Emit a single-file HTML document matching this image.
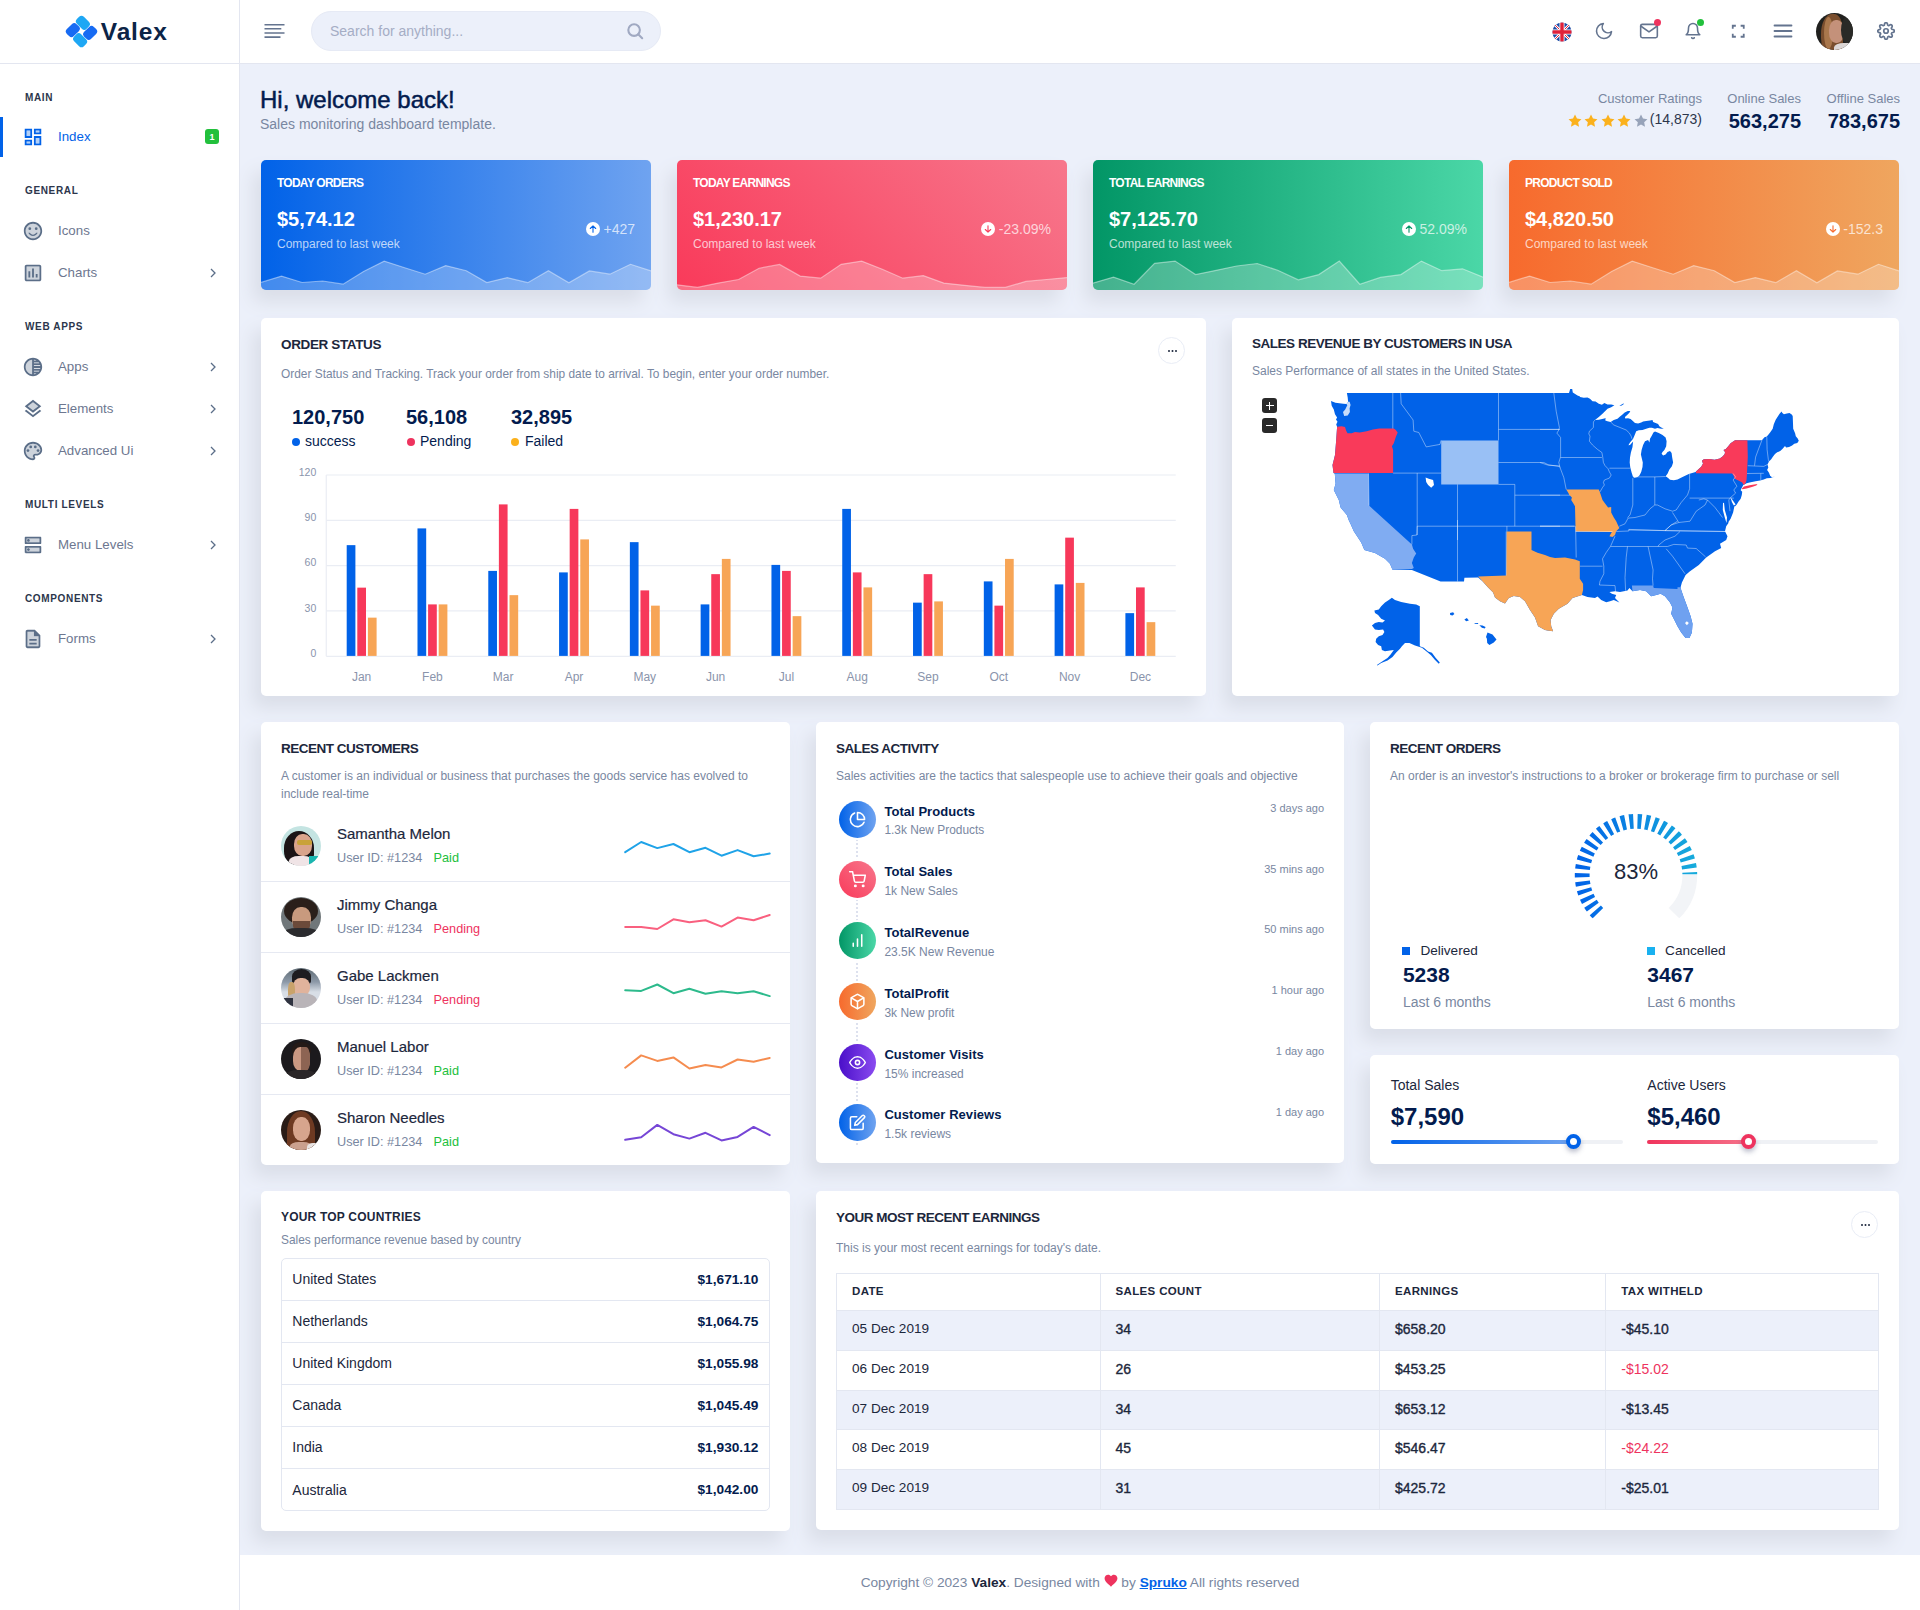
<!DOCTYPE html>
<html lang="en">
<head>
<meta charset="utf-8">
<title>Valex Dashboard</title>
<style>
*{box-sizing:border-box;margin:0;padding:0}
html,body{width:1920px;height:1610px;overflow:hidden}
body{font-family:"Liberation Sans",sans-serif;background:#ecf0fa;color:#031b4e;position:relative;font-size:14px}
.abs{position:absolute}
.t{position:absolute;white-space:nowrap;line-height:1}
.med{-webkit-text-stroke:0.35px currentColor}
.hd{-webkit-text-stroke:0.5px currentColor}
.b{font-weight:bold}
.muted{color:#7987a1}
/* sidebar */
#side{position:absolute;left:0;top:0;width:240px;height:1610px;background:#fff;border-right:1px solid #e3e6f0}
#logo{position:absolute;left:0;top:0;width:239px;height:64px;border-bottom:1px solid #e3e6f0}
.cat{position:absolute;left:25px;margin-top:.8px;font-size:10px;font-weight:bold;letter-spacing:.65px;color:#2c364c;line-height:1;white-space:nowrap}
.mi{position:absolute;left:58px;font-size:13.3px;color:#6d7790;line-height:1;white-space:nowrap}
.ic{position:absolute;left:23px;width:20px;height:20px;margin-top:.5px}
.chev{position:absolute;left:208px;width:10px;height:10px}
/* header */
#head{position:absolute;left:240px;top:0;width:1680px;height:64px;background:#fff;border-bottom:1px solid #e3e6f0}
/* cards */
.card{position:absolute;background:#fff;border-radius:5px;box-shadow:-8px 12px 18px 0 #dadee8}
.ct{position:absolute;left:20px;font-size:14px;font-weight:bold;color:#1c273c;line-height:1;white-space:nowrap}
.cs{position:absolute;left:20px;font-size:12px;color:#7987a1;line-height:1;white-space:nowrap}
.stat{position:absolute;top:160px;width:390px;height:130px;border-radius:5px;overflow:hidden;box-shadow:-8px 12px 18px 0 #dadee8;color:#fff}
#c-earn .t:not(.b){margin-top:-1px}
#foot{position:absolute;left:240px;top:1555px;width:1680px;height:55px;background:#fff}
</style>
</head>
<body>
<!-- SIDEBAR -->
<div id="side">
  <div id="logo">
    <svg class="abs" style="left:65px;top:15.200px;overflow:visible" width="33" height="33" viewBox="0 0 33 33">
      <g transform="rotate(45 16.5 16.5)">
        <rect x="4.450" y="4.450" width="13.800" height="9.900" rx="3.400" fill="#1ea7f4"/>
        <rect x="18.650" y="4.450" width="9.900" height="13.800" rx="3.400" fill="#176bf3"/>
        <rect x="14.750" y="18.650" width="13.800" height="9.900" rx="3.400" fill="#1ea7f4"/>
        <rect x="4.450" y="14.750" width="9.900" height="13.800" rx="3.400" fill="#176bf3"/>
      </g>
    </svg>
    <div class="t b" style="left:100.800px;top:20px;font-size:24.500px;letter-spacing:.85px;color:#0c2447">Valex</div>
  </div>
  <div class="abs" style="left:0;top:117px;width:3px;height:40px;background:#0162e8"></div>
  <div class="cat" style="top:92px">MAIN</div>
  <svg class="ic" style="top:125px;left:22px;width:22px;height:22px" viewBox="0 0 24 24" fill="#0162e8"><path d="M5 5h4v6H5zm10 8h4v6h-4zM5 17h4v2H5zm10-12h4v2h-4z" opacity=".3"/><path d="M3 13h8V3H3v10zm2-8h4v6H5V5zm8 16h8V11h-8v10zm2-8h4v6h-4v-6zM13 3v6h8V3h-8zm6 4h-4V5h4v2zM3 21h8v-6H3v6zm2-4h4v2H5v-2z"/></svg>
  <div class="mi" style="top:130px;color:#0162e8">Index</div>
  <div class="abs" style="left:205px;top:129px;width:14px;height:15px;border-radius:3px;background:#22c03c;color:#fff;font-size:9px;font-weight:bold;text-align:center;line-height:16px">1</div>

  <div class="cat" style="top:185px">GENERAL</div>
  <svg class="ic" style="top:219px;left:22px;width:22px;height:22px" viewBox="0 0 24 24" fill="#5b6e88"><path d="M12 4c-4.42 0-8 3.58-8 8s3.58 8 8 8 8-3.58 8-8-3.58-8-8-8z" opacity=".3"/><path d="M11.99 2C6.47 2 2 6.48 2 12s4.47 10 9.99 10C17.52 22 22 17.52 22 12S17.52 2 11.99 2zM12 20c-4.42 0-8-3.58-8-8s3.58-8 8-8 8 3.58 8 8-3.58 8-8 8z"/><circle cx="15.5" cy="9.5" r="1.5"/><circle cx="8.5" cy="9.5" r="1.5"/><path d="M12 17.5c2.33 0 4.32-1.45 5.12-3.5h-1.67c-.69 1.19-1.97 2-3.45 2s-2.75-.81-3.45-2H6.88c.8 2.05 2.79 3.5 5.12 3.5z"/></svg>
  <div class="mi" style="top:224px">Icons</div>
  <svg class="ic" style="top:261px;left:22px;width:22px;height:22px" viewBox="0 0 24 24" fill="#5b6e88"><path d="M5 19h14V5H5v14z" opacity=".3"/><path d="M19 3H5c-1.1 0-2 .9-2 2v14c0 1.1.9 2 2 2h14c1.1 0 2-.9 2-2V5c0-1.1-.9-2-2-2zm0 16H5V5h14v14zM7 10h2v7H7zm4-3h2v10h-2zm4 6h2v4h-2z"/></svg>
  <div class="mi" style="top:266px">Charts</div>
  <svg class="chev" style="top:268px" viewBox="0 0 10 10"><path d="M3 1l4 4-4 4" fill="none" stroke="#5b6e88" stroke-width="1.3"/></svg>

  <div class="cat" style="top:321px">WEB APPS</div>
  <svg class="ic" style="top:355px;left:22px;width:22px;height:22px" viewBox="0 0 24 24" fill="#5b6e88"><path d="M4 12c0 4.08 3.06 7.44 7 7.93V4.07C7.05 4.56 4 7.92 4 12z" opacity=".3"/><path d="M12 2C6.48 2 2 6.48 2 12s4.48 10 10 10 10-4.48 10-10S17.52 2 12 2zm-1 17.93c-3.94-.49-7-3.85-7-7.93s3.05-7.44 7-7.93v15.86zm2-15.86c1.03.13 2 .45 2.87.93H13v-.93zM13 7h5.24c.25.31.48.65.68 1H13V7zm0 3h6.74c.08.33.15.66.19 1H13v-1zm0 9.93V19h2.87c-.87.48-1.84.8-2.87.93zM18.24 17H13v-1h5.92c-.2.35-.43.69-.68 1zm1.5-3H13v-1h6.93c-.04.34-.11.67-.19 1z"/></svg>
  <div class="mi" style="top:360px">Apps</div>
  <svg class="chev" style="top:362px" viewBox="0 0 10 10"><path d="M3 1l4 4-4 4" fill="none" stroke="#5b6e88" stroke-width="1.3"/></svg>
  <svg class="ic" style="top:397px;left:22px;width:22px;height:22px" viewBox="0 0 24 24" fill="#5b6e88"><path d="M6.26 9L12 13.47 17.74 9 12 4.53z" opacity=".3"/><path d="M11.99 18.54l-7.37-5.73L3 14.07l9 7 9-7-1.63-1.27zM12 16l7.36-5.73L21 9l-9-7-9 7 1.63 1.27L12 16zm0-11.47L17.74 9 12 13.47 6.26 9 12 4.53z"/></svg>
  <div class="mi" style="top:402px">Elements</div>
  <svg class="chev" style="top:404px" viewBox="0 0 10 10"><path d="M3 1l4 4-4 4" fill="none" stroke="#5b6e88" stroke-width="1.3"/></svg>
  <svg class="ic" style="top:439px;left:22px;width:22px;height:22px" viewBox="0 0 24 24" fill="#5b6e88"><path d="M12 4c-4.41 0-8 3.59-8 8s3.59 8 8 8c.28 0 .5-.22.5-.5 0-.16-.08-.28-.14-.35-.41-.46-.63-1.05-.63-1.65 0-1.38 1.12-2.5 2.5-2.5H16c2.21 0 4-1.79 4-4 0-3.86-3.59-7-8-7z" opacity=".3"/><path d="M12 22C6.49 22 2 17.51 2 12S6.49 2 12 2s10 4.04 10 9c0 3.31-2.69 6-6 6h-1.77c-.28 0-.5.22-.5.5 0 .12.05.23.13.33.41.47.64 1.06.64 1.67 0 1.38-1.12 2.5-2.5 2.5zm0-18c-4.41 0-8 3.59-8 8s3.59 8 8 8c.28 0 .5-.22.5-.5 0-.16-.08-.28-.14-.35-.41-.46-.63-1.05-.63-1.65 0-1.38 1.12-2.5 2.5-2.5H16c2.21 0 4-1.79 4-4 0-3.86-3.59-7-8-7z"/><circle cx="6.5" cy="11.5" r="1.5"/><circle cx="9.5" cy="7.5" r="1.5"/><circle cx="14.5" cy="7.5" r="1.5"/><circle cx="17.5" cy="11.5" r="1.5"/></svg>
  <div class="mi" style="top:444px">Advanced Ui</div>
  <svg class="chev" style="top:446px" viewBox="0 0 10 10"><path d="M3 1l4 4-4 4" fill="none" stroke="#5b6e88" stroke-width="1.3"/></svg>

  <div class="cat" style="top:499px">MULTI LEVELS</div>
  <svg class="ic" style="top:533px;left:22px;width:22px;height:22px" viewBox="0 0 24 24" fill="#5b6e88"><path d="M5 9h14V5H5v4zm0 10h14v-4H5v4z" opacity=".3"/><path d="M19 15v4H5v-4h14m1-2H4c-.55 0-1 .45-1 1v6c0 .55.45 1 1 1h16c.55 0 1-.45 1-1v-6c0-.55-.45-1-1-1zM7 18.500c-.82 0-1.5-.67-1.5-1.5s.68-1.5 1.5-1.5 1.5.67 1.5 1.5-.67 1.5-1.5 1.5zM19 5v4H5V5h14m1-2H4c-.55 0-1 .45-1 1v6c0 .55.45 1 1 1h16c.55 0 1-.45 1-1V4c0-.55-.45-1-1-1zM7 8.500c-.82 0-1.5-.67-1.5-1.5S6.180 5.500 7 5.500s1.500.68 1.500 1.500S7.830 8.500 7 8.500z"/></svg>
  <div class="mi" style="top:538px">Menu Levels</div>
  <svg class="chev" style="top:540px" viewBox="0 0 10 10"><path d="M3 1l4 4-4 4" fill="none" stroke="#5b6e88" stroke-width="1.3"/></svg>

  <div class="cat" style="top:593px">COMPONENTS</div>
  <svg class="ic" style="top:627px;left:22px;width:22px;height:22px" viewBox="0 0 24 24" fill="#5b6e88"><path d="M13 4H6v16h12V9h-5V4z" opacity=".3"/><path d="M8 16h8v2H8zm0-4h8v2H8zm6-10H6c-1.1 0-2 .9-2 2v16c0 1.1.89 2 1.990 2H18c1.1 0 2-.9 2-2V8l-6-6zm4 18H6V4h7v5h5v11z"/></svg>
  <div class="mi" style="top:632px">Forms</div>
  <svg class="chev" style="top:634px" viewBox="0 0 10 10"><path d="M3 1l4 4-4 4" fill="none" stroke="#5b6e88" stroke-width="1.3"/></svg>
</div>
<!-- HEADER -->
<div id="head">
  <svg class="abs" style="left:24px;top:23px" width="22" height="16" viewBox="0 0 22 16" fill="none" stroke="#64748f" stroke-width="1.600"><path d="M.5 1.700h20M.5 5.800h16.800M.5 10h20M.5 14.100h16"/></svg>
  <div class="abs" style="left:71px;top:11px;width:350px;height:40px;border-radius:20px;background:#ecf0fa;border:1px solid #e6eaf5"></div>
  <div class="t" style="left:90px;top:24px;font-size:14px;color:#a5adc5">Search for anything...</div>
  <svg class="abs" style="left:385.500px;top:22px" width="18.500" height="18.500" viewBox="0 0 24 24" fill="none" stroke="#a0a9c2" stroke-width="2.700" stroke-linecap="round"><circle cx="10.5" cy="10.5" r="7.500"/><path d="M21 21l-5.200-5.200"/></svg>
  <!-- flag -->
  <svg class="abs" style="left:1311.500px;top:21.500px" width="20" height="20" viewBox="0 0 20 20"><defs><clipPath id="fc"><circle cx="10" cy="10" r="9.600"/></clipPath></defs><g clip-path="url(#fc)"><rect width="20" height="20" fill="#1c4aa5"/><path d="M-2 -2L22 22M22 -2L-2 22" stroke="#fff" stroke-width="2.600"/><path d="M-2 -2L22 22M22 -2L-2 22" stroke="#e0203a" stroke-width="1"/><path d="M10 0v20M0 10h20" stroke="#fff" stroke-width="5"/><path d="M10 0v20M0 10h20" stroke="#e0203a" stroke-width="3.400"/></g></svg>
  <!-- moon -->
  <svg class="abs" style="left:1354px;top:21px" width="20" height="20" viewBox="0 0 24 24" fill="none" stroke="#64748f" stroke-width="1.900" stroke-linecap="round" stroke-linejoin="round"><path d="M21 12.790A9 9 0 1 1 11.210 3 7 7 0 0 0 21 12.790z"/></svg>
  <!-- mail -->
  <svg class="abs" style="left:1399px;top:21px" width="20" height="20" viewBox="0 0 24 24" fill="none" stroke="#64748f" stroke-width="1.900" stroke-linecap="round" stroke-linejoin="round"><path d="M4 4h16c1.100 0 2 .9 2 2v12c0 1.100-.9 2-2 2H4c-1.100 0-2-.9-2-2V6c0-1.100.9-2 2-2z"/><path d="M22 6l-10 7L2 6"/></svg>
  <div class="abs" style="left:1414px;top:19px;width:7px;height:7px;border-radius:50%;background:#ee335e"></div>
  <!-- bell -->
  <svg class="abs" style="left:1444px;top:22px" width="18" height="18" viewBox="0 0 24 24" fill="none" stroke="#64748f" stroke-width="2.100" stroke-linecap="round" stroke-linejoin="round"><path d="M18 8A6 6 0 0 0 6 8c0 7-3 9-3 9h18s-3-2-3-9"/><path d="M13.730 21a2 2 0 0 1-3.460 0"/></svg>
  <div class="abs" style="left:1457px;top:19px;width:7px;height:7px;border-radius:50%;background:#22c03c"></div>
  <!-- fullscreen -->
  <svg class="abs" style="left:1490px;top:23px" width="16.500" height="16.500" viewBox="0 0 24 24" fill="none" stroke="#64748f" stroke-width="2.100" stroke-linecap="round" stroke-linejoin="round"><path d="M8.500 4H4V8.500M20 8.500V4H15.500M15.500 20H20V15.500M4 15.500V20H8.500" stroke-linecap="butt" stroke-linejoin="miter" stroke-width="2.600"/></svg>
  <!-- menu -->
  <svg class="abs" style="left:1533px;top:21px" width="20" height="20" viewBox="0 0 20 20" fill="none" stroke="#64748f" stroke-width="1.800" stroke-linecap="round"><path d="M1.500 4.500h17M1.500 10h17M1.500 15.500h17"/></svg>
  <!-- avatar -->
  <div class="abs" style="left:1576px;top:13px;width:37px;height:37px;border-radius:50%;overflow:hidden;background:#20201e">
    <div class="abs" style="left:5px;top:1px;width:22px;height:40px;border-radius:50% 40% 20% 40%;background:#7a4e2e"></div>
    <div class="abs" style="left:8px;top:4px;width:9px;height:32px;border-radius:50%;background:#a9774c"></div>
    <div class="abs" style="left:13px;top:7px;width:15px;height:23px;border-radius:45%;background:#c4917a"></div>
    <div class="abs" style="left:25px;top:4px;width:12px;height:26px;background:#2a2a27;border-radius:50% 0 0 50%"></div>
    <div class="abs" style="left:18px;top:30px;width:20px;height:9px;background:#dcd7d6;border-radius:50% 30% 0 0"></div>
  </div>
  <!-- gear -->
  <svg class="abs" style="left:1637px;top:22px" width="18" height="18" viewBox="0 0 24 24" fill="none" stroke="#64748f" stroke-width="2.300" stroke-linecap="round" stroke-linejoin="round"><circle cx="12" cy="12" r="3"/><path d="M19.400 15a1.650 1.650 0 0 0 .33 1.820l.06.06a2 2 0 0 1 0 2.830 2 2 0 0 1-2.830 0l-.06-.06a1.650 1.650 0 0 0-1.820-.33 1.650 1.650 0 0 0-1 1.510V21a2 2 0 0 1-2 2 2 2 0 0 1-2-2v-.09A1.650 1.650 0 0 0 9 19.400a1.650 1.650 0 0 0-1.820.33l-.06.06a2 2 0 0 1-2.830 0 2 2 0 0 1 0-2.830l.06-.06a1.650 1.650 0 0 0 .33-1.820 1.650 1.650 0 0 0-1.510-1H3a2 2 0 0 1-2-2 2 2 0 0 1 2-2h.09A1.650 1.650 0 0 0 4.600 9a1.650 1.650 0 0 0-.33-1.820l-.06-.06a2 2 0 0 1 0-2.830 2 2 0 0 1 2.830 0l.06.06a1.650 1.650 0 0 0 1.820.33H9a1.650 1.650 0 0 0 1-1.510V3a2 2 0 0 1 2-2 2 2 0 0 1 2 2v.09a1.650 1.650 0 0 0 1 1.510 1.650 1.650 0 0 0 1.820-.33l.06-.06a2 2 0 0 1 2.830 0 2 2 0 0 1 0 2.830l-.06.06a1.650 1.650 0 0 0-.33 1.820V9a1.650 1.650 0 0 0 1.510 1H21a2 2 0 0 1 2 2 2 2 0 0 1-2 2h-.09a1.650 1.650 0 0 0-1.510 1z"/></svg>
</div>
<!-- PAGE TITLE -->
<div id="ptitle">
  <div class="t hd" style="left:260px;top:88px;font-size:24px;color:#031b4e">Hi, welcome back!</div>
  <div class="t" style="left:260px;top:117px;font-size:14px;color:#7987a1">Sales monitoring dashboard template.</div>
  <div class="t" style="right:218px;top:92px;font-size:13px;color:#7987a1">Customer Ratings</div>
  <svg class="abs" style="left:1567.5px;top:113.500px" width="14" height="13" viewBox="0 0 24 23"><path d="M12 .8l3.500 7.300 7.900 1-5.800 5.500 1.500 7.900L12 18.600l-7.100 3.900 1.500-7.900L.6 9.100l7.900-1z" fill="#fbb11c"/></svg><svg class="abs" style="left:1584px;top:113.500px" width="14" height="13" viewBox="0 0 24 23"><path d="M12 .8l3.500 7.300 7.900 1-5.800 5.500 1.500 7.900L12 18.600l-7.100 3.900 1.500-7.900L.6 9.100l7.900-1z" fill="#fbb11c"/></svg><svg class="abs" style="left:1600.5px;top:113.500px" width="14" height="13" viewBox="0 0 24 23"><path d="M12 .8l3.500 7.300 7.900 1-5.800 5.500 1.500 7.900L12 18.600l-7.100 3.900 1.500-7.900L.6 9.100l7.900-1z" fill="#fbb11c"/></svg><svg class="abs" style="left:1617px;top:113.500px" width="14" height="13" viewBox="0 0 24 23"><path d="M12 .8l3.500 7.300 7.900 1-5.800 5.500 1.500 7.900L12 18.600l-7.100 3.900 1.500-7.900L.6 9.100l7.900-1z" fill="#fbb11c"/></svg><svg class="abs" style="left:1633.5px;top:113.500px" width="14" height="13" viewBox="0 0 24 23"><path d="M12 .8l3.500 7.300 7.900 1-5.800 5.500 1.500 7.900L12 18.600l-7.100 3.900 1.500-7.900L.6 9.100l7.900-1z" fill="#97a3b9"/></svg>
  <div class="t" style="right:218px;top:112px;font-size:14px;color:#2c364c">(14,873)</div>
  <div class="t" style="right:119px;top:92px;font-size:13px;color:#7987a1">Online Sales</div>
  <div class="t b" style="right:119px;top:111px;font-size:20px;color:#031b4e">563,275</div>
  <div class="t" style="right:20px;top:92px;font-size:13px;color:#7987a1">Offline Sales</div>
  <div class="t b" style="right:20px;top:111px;font-size:20px;color:#031b4e">783,675</div>
</div>
<!-- STAT CARDS -->
<div id="stats">
<div class="stat" style="left:261px;background:linear-gradient(to right,#0162e8 0%,#6fa3f0 100%)">
  <div class="t b" style="left:16px;top:17px;font-size:12px;letter-spacing:-.75px">TODAY ORDERS</div>
  <div class="t b" style="left:16px;top:49px;font-size:20px">$5,74.12</div>
  <div class="t" style="left:16px;top:78px;font-size:12px;color:rgba(255,255,255,.72)">Compared to last week</div>
  <div class="abs" style="right:16px;top:62px;height:14px;display:flex;align-items:center;white-space:nowrap;font-size:14px;line-height:14px;color:rgba(255,255,255,.72)"><svg width="14" height="14" viewBox="0 0 14 14" style="margin-right:3.500px"><circle cx="7" cy="7" r="7" fill="#fff"/><path d="M7 10.300V3.900M4.300 6.500L7 3.800l2.700 2.700" fill="none" stroke="#0162e8" stroke-width="1.100" stroke-linecap="round" stroke-linejoin="round"/></svg>+427</div>
  <svg class="abs" style="left:0;top:0" width="390" height="130" viewBox="0 0 390 130"><polygon points="0,130 0.0,122.5 20.5,116.1 41.1,122.5 61.6,121.0 82.1,124.2 102.6,111.4 123.2,101.1 143.7,107.7 164.2,114.2 184.7,105.6 205.3,110.7 225.8,122.5 246.3,117.6 266.8,122.7 287.4,110.7 307.9,122.7 328.4,111.0 348.9,114.2 369.5,104.3 390.0,111.0 390,130" fill="rgba(255,255,255,.26)"/><polyline points="0.0,122.5 20.5,116.1 41.1,122.5 61.6,121.0 82.1,124.2 102.6,111.4 123.2,101.1 143.7,107.7 164.2,114.2 184.7,105.6 205.3,110.7 225.8,122.5 246.3,117.6 266.8,122.7 287.4,110.7 307.9,122.7 328.4,111.0 348.9,114.2 369.5,104.3 390.0,111.0" fill="none" stroke="rgba(255,255,255,.42)" stroke-width="1.200"/></svg>
</div>
<div class="stat" style="left:677px;background:linear-gradient(45deg,#f93a5a 0%,#f7778c 100%)">
  <div class="t b" style="left:16px;top:17px;font-size:12px;letter-spacing:-.75px">TODAY EARNINGS</div>
  <div class="t b" style="left:16px;top:49px;font-size:20px">$1,230.17</div>
  <div class="t" style="left:16px;top:78px;font-size:12px;color:rgba(255,255,255,.72)">Compared to last week</div>
  <div class="abs" style="right:16px;top:62px;height:14px;display:flex;align-items:center;white-space:nowrap;font-size:14px;line-height:14px;color:rgba(255,255,255,.72)"><svg width="14" height="14" viewBox="0 0 14 14" style="margin-right:3.500px"><circle cx="7" cy="7" r="7" fill="#fff"/><path d="M7 3.700v6.400M4.300 7.500L7 10.200l2.700-2.700" fill="none" stroke="#f93a5a" stroke-width="1.100" stroke-linecap="round" stroke-linejoin="round"/></svg>-23.09%</div>
  <svg class="abs" style="left:0;top:0" width="390" height="130" viewBox="0 0 390 130"><polygon points="0,130 0.0,124.8 20.5,127.4 41.1,123.1 61.6,119.5 82.1,108.2 102.6,104.5 123.2,116.1 143.7,118.2 164.2,104.3 184.7,101.1 205.3,109.2 225.8,118.2 246.3,115.6 266.8,123.1 287.4,125.3 307.9,127.4 328.4,127.4 348.9,121.4 369.5,119.5 390.0,117.6 390,130" fill="rgba(255,255,255,.26)"/><polyline points="0.0,124.8 20.5,127.4 41.1,123.1 61.6,119.5 82.1,108.2 102.6,104.5 123.2,116.1 143.7,118.2 164.2,104.3 184.7,101.1 205.3,109.2 225.8,118.2 246.3,115.6 266.8,123.1 287.4,125.3 307.9,127.4 328.4,127.4 348.9,121.4 369.5,119.5 390.0,117.6" fill="none" stroke="rgba(255,255,255,.42)" stroke-width="1.200"/></svg>
</div>
<div class="stat" style="left:1093px;background:linear-gradient(to right,#029666 0%,#4bd7a7 100%)">
  <div class="t b" style="left:16px;top:17px;font-size:12px;letter-spacing:-.75px">TOTAL EARNINGS</div>
  <div class="t b" style="left:16px;top:49px;font-size:20px">$7,125.70</div>
  <div class="t" style="left:16px;top:78px;font-size:12px;color:rgba(255,255,255,.72)">Compared to last week</div>
  <div class="abs" style="right:16px;top:62px;height:14px;display:flex;align-items:center;white-space:nowrap;font-size:14px;line-height:14px;color:rgba(255,255,255,.72)"><svg width="14" height="14" viewBox="0 0 14 14" style="margin-right:3.500px"><circle cx="7" cy="7" r="7" fill="#fff"/><path d="M7 10.300V3.900M4.300 6.500L7 3.800l2.700 2.700" fill="none" stroke="#029666" stroke-width="1.100" stroke-linecap="round" stroke-linejoin="round"/></svg>52.09%</div>
  <svg class="abs" style="left:0;top:0" width="390" height="130" viewBox="0 0 390 130"><polygon points="0,130 0.0,123.1 20.5,117.1 41.1,124.2 61.6,103.3 82.1,101.1 102.6,114.6 123.2,110.3 143.7,106.0 164.2,103.5 184.7,110.3 205.3,119.9 225.8,114.6 246.3,101.1 266.8,124.2 287.4,117.4 307.9,114.6 328.4,101.1 348.9,110.7 369.5,108.8 390.0,117.1 390,130" fill="rgba(255,255,255,.26)"/><polyline points="0.0,123.1 20.5,117.1 41.1,124.2 61.6,103.3 82.1,101.1 102.6,114.6 123.2,110.3 143.7,106.0 164.2,103.5 184.7,110.3 205.3,119.9 225.8,114.6 246.3,101.1 266.8,124.2 287.4,117.4 307.9,114.6 328.4,101.1 348.9,110.7 369.5,108.8 390.0,117.1" fill="none" stroke="rgba(255,255,255,.42)" stroke-width="1.200"/></svg>
</div>
<div class="stat" style="left:1509px;background:linear-gradient(to right,#f76a2d 0%,#efa65f 100%)">
  <div class="t b" style="left:16px;top:17px;font-size:12px;letter-spacing:-.75px">PRODUCT SOLD</div>
  <div class="t b" style="left:16px;top:49px;font-size:20px">$4,820.50</div>
  <div class="t" style="left:16px;top:78px;font-size:12px;color:rgba(255,255,255,.72)">Compared to last week</div>
  <div class="abs" style="right:16px;top:62px;height:14px;display:flex;align-items:center;white-space:nowrap;font-size:14px;line-height:14px;color:rgba(255,255,255,.72)"><svg width="14" height="14" viewBox="0 0 14 14" style="margin-right:3.500px"><circle cx="7" cy="7" r="7" fill="#fff"/><path d="M7 3.700v6.400M4.300 7.500L7 10.200l2.700-2.700" fill="none" stroke="#f76a2d" stroke-width="1.100" stroke-linecap="round" stroke-linejoin="round"/></svg>-152.3</div>
  <svg class="abs" style="left:0;top:0" width="390" height="130" viewBox="0 0 390 130"><polygon points="0,130 0.0,122.5 20.5,116.1 41.1,122.5 61.6,121.0 82.1,124.2 102.6,111.4 123.2,101.1 143.7,107.7 164.2,114.2 184.7,105.6 205.3,110.7 225.8,122.5 246.3,117.6 266.8,122.7 287.4,110.7 307.9,122.7 328.4,111.0 348.9,114.2 369.5,104.3 390.0,111.0 390,130" fill="rgba(255,255,255,.26)"/><polyline points="0.0,122.5 20.5,116.1 41.1,122.5 61.6,121.0 82.1,124.2 102.6,111.4 123.2,101.1 143.7,107.7 164.2,114.2 184.7,105.6 205.3,110.7 225.8,122.5 246.3,117.6 266.8,122.7 287.4,110.7 307.9,122.7 328.4,111.0 348.9,114.2 369.5,104.3 390.0,111.0" fill="none" stroke="rgba(255,255,255,.42)" stroke-width="1.200"/></svg>
</div>
</div>
<!-- ORDER STATUS -->
<div class="card" id="c-order" style="left:261px;top:318px;width:945px;height:378px">
  <div class="ct" style="top:19.500px;font-size:13.500px;letter-spacing:-.37px">ORDER STATUS</div>
  <div class="abs" style="left:897px;top:19px;width:27px;height:27px;border-radius:50%;border:1px solid #e9edf6"></div>
  <div class="abs" style="left:906.500px;top:31.500px;width:2px;height:2px;border-radius:50%;background:#1c273c;box-shadow:3.500px 0 0 #1c273c,7px 0 0 #1c273c"></div>
  <div class="cs" style="top:51px;font-size:11.900px">Order Status and Tracking. Track your order from ship date to arrival. To begin, enter your order number.</div>
  <div class="t b" style="left:31px;top:89px;font-size:20px">120,750</div>
  <div class="t b" style="left:145px;top:89px;font-size:20px">56,108</div>
  <div class="t b" style="left:250px;top:89px;font-size:20px">32,895</div>
  <div class="abs" style="left:30.500px;top:119.500px;width:8px;height:8px;border-radius:50%;background:#0162e8"></div>
  <div class="t" style="left:44px;top:116px;font-size:14px">success</div>
  <div class="abs" style="left:145.500px;top:119.500px;width:8px;height:8px;border-radius:50%;background:#ee335e"></div>
  <div class="t" style="left:159px;top:116px;font-size:14px">Pending</div>
  <div class="abs" style="left:249.500px;top:119.500px;width:8px;height:8px;border-radius:50%;background:#fbb11c"></div>
  <div class="t" style="left:264px;top:116px;font-size:14px">Failed</div>
  <svg class="abs" style="left:0;top:0" width="945" height="378" viewBox="0 0 945 378" font-family="Liberation Sans, sans-serif"><line x1="65.25" x2="914.75" y1="157.00" y2="157.00" stroke="#eaedf4" stroke-width="1.200"/><text x="55.3" y="157.8" font-size="10.500" fill="#8a94ab" text-anchor="end">120</text><line x1="65.25" x2="914.75" y1="202.40" y2="202.40" stroke="#eaedf4" stroke-width="1.200"/><text x="55.3" y="203.2" font-size="10.500" fill="#8a94ab" text-anchor="end">90</text><line x1="65.25" x2="914.75" y1="247.60" y2="247.60" stroke="#eaedf4" stroke-width="1.200"/><text x="55.3" y="248.4" font-size="10.500" fill="#8a94ab" text-anchor="end">60</text><line x1="65.25" x2="914.75" y1="292.90" y2="292.90" stroke="#eaedf4" stroke-width="1.200"/><text x="55.3" y="293.7" font-size="10.500" fill="#8a94ab" text-anchor="end">30</text><line x1="65.25" x2="914.75" y1="338.30" y2="338.30" stroke="#eaedf4" stroke-width="1.200"/><text x="55.3" y="339.1" font-size="10.500" fill="#8a94ab" text-anchor="end">0</text><line x1="65.25" x2="65.25" y1="157" y2="338.29999999999995" stroke="#eaedf4" stroke-width="1.200"/><rect x="85.70" y="227.15" width="8.700" height="110.75" fill="#0162e8"/><rect x="96.30" y="269.65" width="8.700" height="68.25" fill="#f7385a"/><rect x="106.90" y="299.65" width="8.700" height="38.25" fill="#f7a556"/><text x="100.6" y="363" font-size="12" fill="#8a94ab" text-anchor="middle">Jan</text><rect x="156.49" y="210.40" width="8.700" height="127.50" fill="#0162e8"/><rect x="167.09" y="286.40" width="8.700" height="51.50" fill="#f7385a"/><rect x="177.69" y="286.40" width="8.700" height="51.50" fill="#f7a556"/><text x="171.4" y="363" font-size="12" fill="#8a94ab" text-anchor="middle">Feb</text><rect x="227.28" y="252.90" width="8.700" height="85.00" fill="#0162e8"/><rect x="237.88" y="186.40" width="8.700" height="151.50" fill="#f7385a"/><rect x="248.48" y="277.15" width="8.700" height="60.75" fill="#f7a556"/><text x="242.2" y="363" font-size="12" fill="#8a94ab" text-anchor="middle">Mar</text><rect x="298.07" y="254.40" width="8.700" height="83.50" fill="#0162e8"/><rect x="308.67" y="190.90" width="8.700" height="147.00" fill="#f7385a"/><rect x="319.27" y="221.40" width="8.700" height="116.50" fill="#f7a556"/><text x="313.0" y="363" font-size="12" fill="#8a94ab" text-anchor="middle">Apr</text><rect x="368.86" y="224.15" width="8.700" height="113.75" fill="#0162e8"/><rect x="379.46" y="272.40" width="8.700" height="65.50" fill="#f7385a"/><rect x="390.06" y="287.65" width="8.700" height="50.25" fill="#f7a556"/><text x="383.8" y="363" font-size="12" fill="#8a94ab" text-anchor="middle">May</text><rect x="439.65" y="286.40" width="8.700" height="51.50" fill="#0162e8"/><rect x="450.25" y="256.15" width="8.700" height="81.75" fill="#f7385a"/><rect x="460.85" y="240.90" width="8.700" height="97.00" fill="#f7a556"/><text x="454.6" y="363" font-size="12" fill="#8a94ab" text-anchor="middle">Jun</text><rect x="510.45" y="246.90" width="8.700" height="91.00" fill="#0162e8"/><rect x="521.05" y="252.90" width="8.700" height="85.00" fill="#f7385a"/><rect x="531.65" y="298.15" width="8.700" height="39.75" fill="#f7a556"/><text x="525.4" y="363" font-size="12" fill="#8a94ab" text-anchor="middle">Jul</text><rect x="581.24" y="190.90" width="8.700" height="147.00" fill="#0162e8"/><rect x="591.84" y="254.40" width="8.700" height="83.50" fill="#f7385a"/><rect x="602.44" y="269.40" width="8.700" height="68.50" fill="#f7a556"/><text x="596.2" y="363" font-size="12" fill="#8a94ab" text-anchor="middle">Aug</text><rect x="652.03" y="284.65" width="8.700" height="53.25" fill="#0162e8"/><rect x="662.63" y="256.15" width="8.700" height="81.75" fill="#f7385a"/><rect x="673.23" y="283.40" width="8.700" height="54.50" fill="#f7a556"/><text x="667.0" y="363" font-size="12" fill="#8a94ab" text-anchor="middle">Sep</text><rect x="722.82" y="263.40" width="8.700" height="74.50" fill="#0162e8"/><rect x="733.42" y="287.65" width="8.700" height="50.25" fill="#f7385a"/><rect x="744.02" y="240.90" width="8.700" height="97.00" fill="#f7a556"/><text x="737.8" y="363" font-size="12" fill="#8a94ab" text-anchor="middle">Oct</text><rect x="793.61" y="266.40" width="8.700" height="71.50" fill="#0162e8"/><rect x="804.21" y="219.65" width="8.700" height="118.25" fill="#f7385a"/><rect x="814.81" y="264.90" width="8.700" height="73.00" fill="#f7a556"/><text x="808.6" y="363" font-size="12" fill="#8a94ab" text-anchor="middle">Nov</text><rect x="864.40" y="295.15" width="8.700" height="42.75" fill="#0162e8"/><rect x="875.00" y="269.40" width="8.700" height="68.50" fill="#f7385a"/><rect x="885.60" y="304.15" width="8.700" height="33.75" fill="#f7a556"/><text x="879.4" y="363" font-size="12" fill="#8a94ab" text-anchor="middle">Dec</text></svg>
</div>
<!-- MAP -->
<div class="card" id="c-map" style="left:1232px;top:318px;width:667px;height:378px">
  <div class="ct" style="top:19px;font-size:13.500px;letter-spacing:-.47px">SALES REVENUE BY CUSTOMERS IN USA</div>
  <div class="cs" style="top:47px">Sales Performance of all states in the United States.</div>
  <svg class="abs" style="left:0;top:0" width="667" height="378" viewBox="0 0 667 378"><path d="M99.0 83.0 L103.4 84.7 L111.3 85.8 L114.5 86.1 L116.1 83.7 L115.7 79.5 L114.9 74.9 L337.0 75.0 L338.2 71.0 L340.2 71.0 L340.8 74.5 L345.5 77.6 L348.0 78.6 L348.0 78.9 L351.8 79.8 L355.5 79.5 L358.0 80.8 L360.5 83.2 L363.6 83.6 L366.8 85.8 L369.9 86.7 L372.4 85.1 L375.5 86.4 L379.2 86.4 L382.4 87.3 L379.2 89.2 L375.5 90.8 L373.0 93.2 L370.5 95.8 L366.8 98.9 L363.0 102.0 L366.8 101.7 L372.4 100.4 L373.6 100.1 L373.3 102.6 L375.5 103.2 L378.6 103.9 L381.8 102.0 L385.5 100.8 L388.0 98.6 L390.2 96.7 L392.7 94.5 L395.8 93.1 L398.3 92.9 L397.4 94.8 L394.9 97.3 L392.9 98.9 L393.3 100.4 L396.1 100.2 L398.6 101.1 L401.1 103.2 L403.0 105.1 L406.1 105.4 L409.2 104.5 L411.1 103.6 L414.2 102.9 L418.0 102.6 L420.5 102.0 L421.1 103.9 L423.6 105.1 L426.1 106.1 L427.4 108.2 L429.2 109.5 L431.8 110.4 L429.2 110.8 L425.5 110.1 L423.0 110.8 L419.9 109.8 L417.4 109.8 L414.2 110.8 L410.5 112.0 L406.8 112.3 L404.2 113.2 L402.7 117.0 L401.1 120.8 L398.0 124.5 L396.4 127.3 L398.0 127.0 L401.1 123.6 L400.5 128.9 L398.9 134.5 L398.0 139.5 L397.7 144.5 L398.3 149.5 L399.6 154.5 L400.8 158.2 L402.4 159.8 L405.5 158.9 L407.4 157.6 L409.2 153.9 L410.5 148.9 L410.8 144.5 L409.9 140.8 L408.9 136.4 L409.6 132.0 L411.1 127.0 L413.0 123.2 L416.1 122.0 L417.4 124.5 L418.0 120.8 L419.9 117.6 L421.4 114.5 L423.0 113.6 L426.8 115.1 L430.5 117.0 L433.6 119.5 L434.6 123.2 L434.2 128.2 L432.4 132.0 L430.5 133.9 L429.6 135.8 L431.1 137.6 L433.6 136.4 L435.5 133.9 L438.0 132.9 L439.6 135.1 L440.2 139.5 L441.1 144.5 L439.9 148.2 L437.4 151.4 L435.5 155.8 L433.6 158.2 L436.1 160.1 L438.0 161.7 L441.8 162.3 L445.5 161.4 L450.5 158.9 L456.8 156.1 L463.6 153.9 L464.0 153.6 L469.2 148.8 L471.0 145.4 L469.9 142.8 L471.8 141.3 L477.4 140.9 L482.6 141.7 L487.8 140.6 L490.8 138.3 L492.7 136.1 L493.0 133.9 L491.5 132.0 L493.8 130.9 L496.0 128.6 L498.6 125.3 L501.2 123.4 L503.1 122.3 L515.4 122.3 L529.9 122.3 L531.4 120.4 L532.5 119.3 L534.8 118.6 L536.3 116.7 L538.1 114.5 L540.7 110.8 L541.8 106.3 L543.7 101.8 L547.4 95.9 L549.5 93.6 L550.4 95.1 L551.9 96.2 L554.9 95.5 L557.5 95.0 L559.7 96.6 L560.7 98.1 L561.0 105.5 L561.2 110.8 L563.1 115.2 L563.8 118.2 L565.7 120.4 L566.8 122.7 L565.3 124.9 L562.3 125.7 L560.1 127.5 L557.1 129.0 L554.1 129.4 L553.0 127.9 L550.4 130.9 L548.2 133.1 L545.2 134.2 L543.0 136.1 L540.7 139.1 L539.2 141.3 L537.0 143.6 L535.5 146.5 L536.3 149.5 L535.1 152.1 L537.0 154.7 L538.1 157.7 L540.0 159.2 L543.0 158.5 L538.5 159.9 L534.8 160.3 L531.8 161.4 L528.1 162.6 L523.6 163.3 L517.6 164.4 L514.6 165.2 L512.8 166.3 L511.3 167.0 L509.4 170.4 L508.7 172.2 L510.2 173.7 L509.8 177.1 L508.7 180.8 L506.4 183.8 L504.6 186.8 L503.1 188.3 L502.4 188.2 L501.1 194.5 L498.6 200.8 L496.1 204.5 L496.8 204.5 L494.2 208.2 L493.0 213.2 L495.5 218.2 L494.2 222.0 L488.0 225.8 L489.2 230.1 L483.0 233.2 L474.2 239.5 L466.8 247.0 L458.0 253.2 L453.6 257.0 L449.9 264.5 L448.6 269.2 L449.2 272.0 L451.8 279.5 L455.5 289.5 L458.6 298.2 L460.5 305.8 L459.9 314.5 L457.4 320.1 L453.6 320.1 L449.2 314.5 L445.5 308.2 L442.4 302.0 L439.2 295.8 L440.5 289.5 L438.0 284.5 L433.0 278.2 L428.6 275.8 L424.2 277.0 L419.2 278.2 L414.2 273.2 L408.0 272.0 L400.5 273.2 L397.4 270.1 L395.5 272.6 L388.0 273.9 L383.0 273.2 L377.4 273.9 L379.9 275.8 L384.2 277.0 L383.0 280.1 L387.4 284.5 L381.8 282.0 L378.0 283.2 L374.2 284.2 L369.2 282.0 L365.5 278.5 L363.0 280.1 L355.5 278.9 L349.9 277.0 L340.5 280.1 L335.5 285.8 L326.8 290.8 L321.8 295.8 L318.6 302.0 L319.2 308.2 L321.1 313.2 L315.5 312.6 L313.0 312.0 L306.1 308.2 L303.0 299.5 L298.0 292.0 L293.0 283.2 L288.0 278.9 L281.8 278.0 L276.8 280.1 L273.0 285.5 L268.0 283.2 L263.0 279.5 L261.1 274.5 L256.1 269.5 L250.5 263.2 L246.1 259.5 L232.4 259.8 L232.0 263.5 L225.5 263.5 L208.6 263.5 L179.9 252.0 L160.5 251.8 L158.0 245.8 L153.0 240.8 L143.0 235.1 L132.4 232.0 L129.2 224.5 L121.8 213.2 L116.8 202.0 L118.0 205.8 L114.9 197.0 L108.6 189.5 L106.8 182.0 L101.8 172.0 L103.6 165.8 L102.8 155.8 L101.5 155.1 L100.5 147.0 L103.0 137.0 L104.2 122.0 L105.1 108.7 L104.2 106.4 L105.5 103.7 L104.0 101.6 L105.1 99.5 L103.0 96.2 L101.8 91.6 L99.7 87.8Z" fill="#0162e8"/><path d="M105.1 108.7 L109.7 108.2 L113.0 109.1 L114.2 112.8 L115.5 115.3 L119.7 115.3 L123.0 114.1 L127.6 114.5 L134.7 113.2 L140.9 111.6 L147.2 110.5 L161.8 110.5 L163.8 112.0 L165.7 114.5 L163.8 119.1 L161.8 125.3 L159.9 128.2 L161.1 132.0 L161.1 155.1 L101.5 155.1 L100.5 147.0 L103.0 137.0 L104.2 122.0Z" fill="#f93a5a"/><path d="M102.8 155.5 L136.5 155.5 L137.0 187.6 L179.9 226.4 L181.1 230.8 L184.2 235.5 L181.8 239.5 L179.9 245.1 L181.8 250.1 L179.9 251.0 L160.5 251.8 L158.0 245.8 L153.0 240.8 L143.0 235.1 L132.4 232.0 L129.2 224.5 L121.8 213.2 L116.8 202.0 L118.0 205.8 L114.9 197.0 L108.6 189.5 L106.8 182.0 L101.8 172.0 L103.6 165.8Z" fill="#80acf2"/><path d="M209.2 122.4 L266.5 122.4 L266.5 166.4 L209.2 166.4Z" fill="#99c0f5"/><path d="M334.2 171.4 L366.8 171.4 L368.0 174.5 L370.5 182.0 L374.2 187.0 L376.1 189.5 L379.2 188.9 L379.2 194.5 L381.8 199.5 L384.2 203.2 L386.1 207.6 L387.4 210.1 L384.2 213.2 L383.0 217.0 L380.5 218.9 L377.4 218.2 L379.9 213.9 L343.6 213.5 L343.0 188.2 L341.1 185.1 L339.2 182.0 L339.9 179.5 L337.4 177.0 L336.1 174.5Z" fill="#f7a556"/><path d="M274.6 213.5 L299.5 213.5 L299.5 232.0 L305.5 234.8 L313.0 237.0 L318.0 238.9 L323.0 240.1 L333.0 239.5 L343.0 241.4 L347.8 243.2 L347.8 260.8 L351.1 265.8 L351.1 272.0 L349.9 277.0 L340.5 280.1 L335.5 285.8 L326.8 290.8 L321.8 295.8 L318.6 302.0 L319.2 308.2 L321.1 313.2 L315.5 312.6 L313.0 312.0 L306.1 308.2 L303.0 299.5 L298.0 292.0 L293.0 283.2 L288.0 278.9 L281.8 278.0 L276.8 280.1 L273.0 285.5 L268.0 283.2 L263.0 279.5 L261.1 274.5 L256.1 269.5 L250.5 263.2 L246.1 258.5 L274.2 257.6Z" fill="#f7a556"/><path d="M464.0 155.3 L464.0 153.6 L469.2 148.8 L471.0 145.4 L469.9 142.8 L471.8 141.3 L477.4 140.9 L482.6 141.7 L487.8 140.6 L490.8 138.3 L492.7 136.1 L493.0 133.9 L491.5 132.0 L493.8 130.9 L496.0 128.6 L498.6 125.3 L501.2 123.4 L503.1 122.3 L515.4 122.3 L515.8 139.1 L515.4 146.5 L515.0 154.7 L514.6 161.4 L513.9 164.4 L512.8 166.3 L511.3 166.7 L510.2 164.4 L506.4 162.6 L502.7 160.7 L501.6 157.7 L500.1 155.5Z" fill="#f93a5a"/><path d="M509.8 170.5 L512.0 168.6 L517.6 167.3 L522.1 166.5 L525.5 165.9 L524.3 167.6 L519.9 169.0 L514.6 170.4 L510.5 171.3Z" fill="#f93a5a"/><path d="M399.9 267.6 L421.1 267.6 L421.8 270.1 L445.5 271.0 L445.5 269.2 L448.6 269.2 L449.2 272.0 L451.8 279.5 L455.5 289.5 L458.6 298.2 L460.5 305.8 L459.9 314.5 L457.4 320.1 L453.6 320.1 L449.2 314.5 L445.5 308.2 L442.4 302.0 L439.2 295.8 L440.5 289.5 L438.0 284.5 L433.0 278.2 L428.6 275.8 L424.2 277.0 L419.2 278.2 L414.2 273.2 L408.0 272.0 L400.5 273.2Z" fill="#6fa1f0"/><path d="M159.9 279.8 L163.0 282.0 L169.2 283.9 L178.0 285.8 L184.2 286.4 L187.8 288.2 L187.8 328.2 L191.8 329.8 L196.1 333.5 L199.9 334.8 L203.6 339.8 L207.8 344.5 L206.8 345.8 L202.8 341.8 L199.0 337.2 L195.5 334.2 L189.9 329.8 L183.0 327.6 L177.4 325.1 L173.0 325.1 L169.9 328.2 L168.0 330.8 L164.2 334.5 L160.5 338.9 L155.5 342.6 L149.2 345.1 L145.5 347.6 L144.9 347.0 L150.5 343.2 L155.5 340.1 L158.6 336.4 L161.8 332.0 L158.0 332.6 L153.0 333.2 L149.9 332.0 L149.2 328.2 L146.1 327.0 L143.6 323.9 L144.2 320.8 L146.8 318.2 L150.5 317.0 L152.4 313.9 L151.1 311.4 L146.8 312.0 L143.0 311.4 L139.9 307.6 L143.0 305.1 L146.8 303.9 L150.5 304.5 L153.0 302.6 L149.2 300.8 L146.1 297.0 L143.0 295.1 L142.4 292.6 L146.8 291.4 L149.2 288.2 L153.0 284.5 L156.8 282.0Z" fill="#0162e8"/><path d="M218.0 295.1 L221.1 294.2 L222.4 296.0 L220.5 297.6 L218.2 297.0Z" fill="#0162e8"/><path d="M232.4 301.4 L234.9 300.1 L236.8 302.6 L234.2 303.2Z" fill="#0162e8"/><path d="M242.4 304.9 L246.1 305.0 L246.1 306.0 L242.8 305.8Z" fill="#0162e8"/><path d="M247.4 307.2 L250.5 307.6 L253.6 308.9 L252.8 310.5 L249.9 309.8Z" fill="#0162e8"/><path d="M255.5 314.5 L260.5 316.4 L264.5 321.4 L261.8 324.5 L257.4 327.0 L255.2 325.1 L254.9 320.8 L254.0 318.9Z" fill="#0162e8"/><path d="M387.4 88.1 L389.6 86.4 L391.8 85.2 L391.4 86.4 L389.2 87.8Z" fill="#0162e8"/><path d="M114.5 86.1 L116.1 83.7 L117.6 83.7 L118.6 87.0 L117.6 90.3 L117.9 94.1 L115.7 97.4 L112.2 97.9 L111.0 94.1 L113.2 91.4 L115.3 87.2Z" fill="#fff" fill-opacity=".78"/><path d="M193.6 159.5 L196.8 160.8 L201.1 162.0 L202.0 167.0 L199.2 169.8 L196.1 167.0 L194.2 163.9Z" fill="#fff"/><path d="M454.9 303.2 L456.8 305.1 L454.9 307.2 L453.0 305.1Z" fill="#fff"/><path d="M491.0 185.1 L492.0 184.8 L492.8 192.0 L495.0 199.5 L494.5 205.1 L492.8 199.5 L490.8 192.0Z" fill="#fff"/><path d="M503.6 186.4 L500.5 182.0 L498.6 179.5 L499.9 183.9 L501.8 187.6Z" fill="#fff"/><path d="M160.8 75.0 L160.8 110.5 M168.6 75.0 L169.2 85.8 L181.1 102.0 L181.8 113.2 L186.8 114.5 L194.2 128.9 L208.0 126.4 L209.0 122.4 M266.5 75.0 L266.5 122.4 M266.5 111.4 L328.0 111.4 M266.5 144.5 L311.8 144.5 L316.8 147.0 L328.0 148.2 M161.1 155.1 L209.0 155.1 M136.5 155.5 L137.0 187.6 M185.2 155.1 L185.2 217.0 M225.5 166.4 L225.5 222.0 M266.5 166.4 L282.8 166.4 L282.8 208.2 M282.8 177.2 L328.0 177.2 M185.2 208.2 L328.0 208.2 M185.2 208.2 L184.9 217.0 L179.9 217.6 L179.9 226.4 M225.5 202.0 L225.5 263.5 M274.9 208.2 L274.9 213.5 M274.2 213.5 L274.2 257.6 M321.8 75.0 L324.2 93.2 L327.4 109.5 L326.8 112.0 L324.9 115.1 L328.6 119.5 L328.6 138.9 M308.0 111.4 L327.4 111.4 M328.6 139.5 L369.9 139.5 M363.0 102.0 L361.4 103.9 L361.4 109.5 L357.4 113.2 L356.8 115.8 L358.0 118.2 L357.4 123.2 L360.5 127.0 L365.5 131.4 L369.9 134.5 L370.8 139.5 L371.4 144.5 L373.0 147.6 L376.1 150.8 L377.4 153.9 L379.2 157.0 L377.4 160.1 L372.4 162.0 L371.4 164.5 L372.4 167.0 M372.4 167.0 L370.5 169.5 L368.0 173.9 M378.6 103.9 L381.8 107.0 L388.0 109.5 L394.2 112.0 L397.4 115.1 L399.2 118.2 L399.9 120.8 M377.4 150.2 L398.0 150.2 M308.0 144.5 L315.5 147.0 L326.8 148.2 L328.0 149.5 L331.8 159.5 L334.2 171.4 M328.6 138.9 L326.8 144.5 L328.0 149.5 M308.0 177.2 L338.0 177.2 M308.0 208.2 L343.0 208.2 M400.8 160.1 L400.8 187.0 L398.0 197.0 L395.5 199.5 M400.8 158.9 L422.8 158.9 L433.6 158.5 M422.8 158.9 L422.8 187.0 M457.6 155.8 L457.6 170.8 L455.5 177.0 L449.2 184.5 L444.2 192.0 L440.5 193.2 L433.0 190.8 L425.5 187.0 L422.8 187.0 L418.0 190.8 L413.0 197.0 L408.0 198.2 L403.0 199.5 L396.1 200.1 L393.0 205.8 L387.4 208.2 M457.6 180.1 L501.8 180.1 M396.8 212.0 L433.0 212.6 L493.0 213.5 M440.5 194.5 L446.8 204.5 L458.0 203.2 L464.2 193.2 L473.0 187.0 L475.5 182.0 L471.8 180.8 L466.8 182.0 M433.0 212.6 L439.2 207.0 L446.8 204.5 M475.5 182.0 L483.0 189.5 L486.8 194.5 L490.5 199.5 M501.1 155.5 L503.6 158.9 L501.1 162.0 L504.9 168.2 L501.8 172.0 L503.6 175.1 L498.0 180.1 L496.8 182.0 L498.0 193.2 M529.9 122.3 L526.6 130.9 L523.6 139.1 L522.5 147.7 M534.8 118.6 L535.1 131.6 L536.3 141.3 L537.0 143.6 M515.8 147.7 L531.8 148.4 L535.5 146.5 M515.0 155.5 L531.8 155.3 M528.8 155.5 L528.8 162.2 M308.0 208.2 L342.4 208.2 M343.6 208.2 L344.2 239.5 M343.6 213.5 L380.5 213.5 M348.0 248.2 L370.5 248.2 M383.0 218.2 L378.6 228.2 L374.2 234.5 L370.5 240.8 L371.8 248.2 L371.8 255.8 L368.0 263.2 L367.4 267.0 L383.0 267.6 L383.6 273.9 M378.6 228.5 L435.5 228.5 L441.8 226.4 L454.2 227.0 L455.5 230.1 L464.2 230.5 L473.6 238.9 M384.2 213.5 L396.8 213.0 L396.8 211.4 L433.0 212.6 L494.2 213.5 M395.5 228.5 L394.2 239.5 L393.0 259.5 L393.6 272.6 M416.1 228.5 L421.1 252.0 L420.5 260.8 L421.1 267.6 M434.2 230.8 L440.5 238.2 L446.8 247.0 L453.0 255.8 M448.0 213.5 L443.0 218.2 L433.0 222.0 L426.8 227.0 L426.1 228.5 M433.0 212.6 L439.2 207.0 L445.5 203.2" fill="none" stroke="#fff" stroke-opacity=".75" stroke-width=".55"/></svg>
  <div class="abs" style="left:30px;top:80px;width:15px;height:15px;border-radius:3px;background:#292929"></div>
  <div class="abs" style="left:33.500px;top:86.800px;width:8px;height:1.500px;background:#fff"></div>
  <div class="abs" style="left:36.800px;top:83.500px;width:1.500px;height:8px;background:#fff"></div>
  <div class="abs" style="left:30px;top:100px;width:15px;height:15px;border-radius:3px;background:#292929"></div>
  <div class="abs" style="left:34px;top:106.500px;width:7px;height:1.500px;background:#fff"></div>
</div>
<!-- RECENT CUSTOMERS -->
<div class="card" id="c-cust" style="left:261px;top:722px;width:529px;height:443px">
<div class="ct" style="top:20.300px;font-size:13.500px;letter-spacing:-.5px">RECENT CUSTOMERS</div>
<div class="cs" style="top:48px;line-height:18px;white-space:normal;width:490px;margin-top:-3px">A customer is an individual or business that purchases the goods service has evolved to include real-time</div>
<div class="abs" style="left:19.8px;top:103.8px;width:40px;height:40px;border-radius:50%;overflow:hidden"><div class="abs" style="inset:0;background:#c4e4e2"></div><div class="abs" style="left:3px;top:5px;width:30px;height:34px;border-radius:50% 50% 30% 40%;background:#1b1416"></div><div class="abs" style="left:13px;top:8px;width:18px;height:22px;border-radius:45%;background:#d9a48c"></div><div class="abs" style="left:16px;top:14px;width:15px;height:5px;border-radius:2px;background:#c9a23a"></div><div class="abs" style="left:8px;top:30px;width:24px;height:12px;border-radius:40%;background:#f0e4e6"></div><div class="abs" style="left:28px;top:30px;width:10px;height:10px;background:#19b6b0"></div></div>
<div class="t med" style="left:76px;top:104.3px;font-size:15px;color:#1c273c;-webkit-text-stroke-width:.2px">Samantha Melon</div>
<div class="t" style="left:76px;top:128.3px;font-size:12.700px;margin-top:1.500px;color:#7987a1">User ID: #1234</div>
<div class="t" style="left:172.6px;top:128.3px;font-size:12.700px;margin-top:1.500px;color:#22c03c">Paid</div>
<svg class="abs" style="left:0;top:0" width="529" height="443"><polyline points="364.2,130.2 380.2,120.0 396.3,126.1 412.4,122.0 428.4,130.2 444.5,125.8 460.5,133.7 476.6,128.1 492.6,134.3 508.7,131.6" fill="none" stroke="#1fa3e8" stroke-width="2" stroke-linejoin="round" stroke-linecap="round"/></svg>
<div class="abs" style="left:0;top:158.9px;width:529px;height:1px;background:#e6e9f2"></div>
<div class="abs" style="left:19.8px;top:174.7px;width:40px;height:40px;border-radius:50%;overflow:hidden"><div class="abs" style="inset:0;background:#70777a"></div><div class="abs" style="left:3px;top:1px;width:34px;height:26px;border-radius:50%;background:#2a1f1a"></div><div class="abs" style="left:11px;top:10px;width:19px;height:23px;border-radius:45%;background:#c89a7e"></div><div class="abs" style="left:12px;top:24px;width:17px;height:10px;border-radius:0 0 50% 50%;background:#6b4a3a"></div><div class="abs" style="left:2px;top:31px;width:36px;height:12px;border-radius:40% 40% 0 0;background:#2b2b2e"></div></div>
<div class="t med" style="left:76px;top:175.2px;font-size:15px;color:#1c273c;-webkit-text-stroke-width:.2px">Jimmy Changa</div>
<div class="t" style="left:76px;top:199.2px;font-size:12.700px;margin-top:1.500px;color:#7987a1">User ID: #1234</div>
<div class="t" style="left:172.6px;top:199.2px;font-size:12.700px;margin-top:1.500px;color:#ee335e">Pending</div>
<svg class="abs" style="left:0;top:0" width="529" height="443"><polyline points="364.2,204.9 380.2,204.9 396.3,207.0 412.4,197.3 428.4,200.3 444.5,198.2 460.5,204.6 476.6,195.6 492.6,198.2 508.7,193.0" fill="none" stroke="#f9607f" stroke-width="2" stroke-linejoin="round" stroke-linecap="round"/></svg>
<div class="abs" style="left:0;top:229.8px;width:529px;height:1px;background:#e6e9f2"></div>
<div class="abs" style="left:19.8px;top:245.7px;width:40px;height:40px;border-radius:50%;overflow:hidden"><div class="abs" style="inset:0;background:linear-gradient(#5d6a73 0%,#8d99a8 35%,#d8dee6 60%)"></div><div class="abs" style="left:11px;top:1px;width:19px;height:15px;border-radius:50% 50% 20% 20%;background:#1d1c20"></div><div class="abs" style="left:12px;top:10px;width:17px;height:18px;border-radius:45%;background:#e0b39c"></div><div class="abs" style="left:7px;top:14px;width:7px;height:18px;border-radius:40%;background:#c9a36b"></div><div class="abs" style="left:4px;top:25px;width:32px;height:18px;border-radius:45% 45% 0 0;background:#b9b4b8"></div><div class="abs" style="left:0px;top:30px;width:12px;height:12px;background:#2f3340"></div></div>
<div class="t med" style="left:76px;top:246.2px;font-size:15px;color:#1c273c;-webkit-text-stroke-width:.2px">Gabe Lackmen</div>
<div class="t" style="left:76px;top:270.2px;font-size:12.700px;margin-top:1.500px;color:#7987a1">User ID: #1234</div>
<div class="t" style="left:172.6px;top:270.2px;font-size:12.700px;margin-top:1.500px;color:#ee335e">Pending</div>
<svg class="abs" style="left:0;top:0" width="529" height="443"><polyline points="364.2,268.3 380.2,268.9 396.3,262.5 412.4,271.2 428.4,266.8 444.5,271.8 460.5,269.2 476.6,271.2 492.6,269.2 508.7,274.1" fill="none" stroke="#2dba8c" stroke-width="2" stroke-linejoin="round" stroke-linecap="round"/></svg>
<div class="abs" style="left:0;top:300.8px;width:529px;height:1px;background:#e6e9f2"></div>
<div class="abs" style="left:19.8px;top:316.9px;width:40px;height:40px;border-radius:50%;overflow:hidden"><div class="abs" style="inset:0;background:#1c1a1d"></div><div class="abs" style="left:11px;top:3px;width:19px;height:14px;border-radius:50% 50% 30% 30%;background:#241a17"></div><div class="abs" style="left:12px;top:8px;width:17px;height:24px;border-radius:42%;background:#c99882"></div><div class="abs" style="left:20px;top:8px;width:9px;height:24px;border-radius:0 42% 42% 0;background:#8d6453"></div><div class="abs" style="left:5px;top:31px;width:30px;height:12px;border-radius:40% 40% 0 0;background:#2a2628"></div></div>
<div class="t med" style="left:76px;top:317.4px;font-size:15px;color:#1c273c;-webkit-text-stroke-width:.2px">Manuel Labor</div>
<div class="t" style="left:76px;top:341.4px;font-size:12.700px;margin-top:1.500px;color:#7987a1">User ID: #1234</div>
<div class="t" style="left:172.6px;top:341.4px;font-size:12.700px;margin-top:1.500px;color:#22c03c">Paid</div>
<svg class="abs" style="left:0;top:0" width="529" height="443"><polyline points="364.2,345.7 380.2,333.4 396.3,338.9 412.4,335.4 428.4,346.5 444.5,343.0 460.5,345.4 476.6,337.5 492.6,339.8 508.7,336.0" fill="none" stroke="#f58c4f" stroke-width="2" stroke-linejoin="round" stroke-linecap="round"/></svg>
<div class="abs" style="left:0;top:371.7px;width:529px;height:1px;background:#e6e9f2"></div>
<div class="abs" style="left:19.8px;top:387.9px;width:40px;height:40px;border-radius:50%;overflow:hidden"><div class="abs" style="inset:0;background:#2a1c17"></div><div class="abs" style="left:6px;top:1px;width:28px;height:42px;border-radius:50% 50% 20% 20%;background:#6e3a22"></div><div class="abs" style="left:12px;top:7px;width:17px;height:24px;border-radius:45%;background:#d7a58d"></div><div class="abs" style="left:9px;top:32px;width:22px;height:10px;border-radius:40% 40% 0 0;background:#caa08e"></div><div class="abs" style="left:26px;top:33px;width:12px;height:8px;background:#e8e4e3;border-radius:50% 0 0 0"></div></div>
<div class="t med" style="left:76px;top:388.4px;font-size:15px;color:#1c273c;-webkit-text-stroke-width:.2px">Sharon Needles</div>
<div class="t" style="left:76px;top:412.4px;font-size:12.700px;margin-top:1.500px;color:#7987a1">User ID: #1234</div>
<div class="t" style="left:172.6px;top:412.4px;font-size:12.700px;margin-top:1.500px;color:#22c03c">Paid</div>
<svg class="abs" style="left:0;top:0" width="529" height="443"><polyline points="364.2,417.8 380.2,415.2 396.3,402.9 412.4,412.2 428.4,416.6 444.5,410.8 460.5,418.4 476.6,414.9 492.6,404.9 508.7,413.1" fill="none" stroke="#7646d6" stroke-width="2" stroke-linejoin="round" stroke-linecap="round"/></svg>
</div>
<!-- SALES ACTIVITY -->
<div class="card" id="c-act" style="left:816px;top:722px;width:528px;height:441px">
<div class="ct" style="top:20.300px;font-size:13.500px;letter-spacing:-.5px">SALES ACTIVITY</div>
<div class="cs" style="top:48px">Sales activities are the tactics that salespeople use to achieve their goals and objective</div>
<div class="abs" style="left:40.3px;top:97.3px;width:0;height:325.3px;border-left:2px dotted #dde1ee"></div>
<div class="abs" style="left:22.9px;top:78.8px;width:37px;height:37px;border-radius:50%;background:linear-gradient(to right,#0162e8,#6fa3f0);box-shadow:0 0 0 2px #fff"><svg style="position:absolute;left:10px;top:10px" width="17" height="17" viewBox="0 0 24 24" fill="none" stroke="#fff" stroke-width="2.200" stroke-linecap="round" stroke-linejoin="round"><path d="M21.210 15.890A10 10 0 1 1 8 2.830"/><path d="M22 12A10 10 0 0 0 12 2v10z"/></svg></div>
<div class="t b" style="left:68.4px;top:82.8px;font-size:13px;letter-spacing:.05px;color:#031b4e">Total Products</div>
<div class="t" style="left:68.4px;top:102.8px;font-size:11.900px;color:#7987a1">1.3k New Products</div>
<div class="t" style="right:19.9px;top:81.3px;font-size:11px;color:#7987a1">3 days ago</div>
<div class="abs" style="left:22.9px;top:139.0px;width:37px;height:37px;border-radius:50%;background:linear-gradient(45deg,#f93a5a,#f7778c);box-shadow:0 0 0 2px #fff"><svg style="position:absolute;left:10px;top:10px" width="17" height="17" viewBox="0 0 24 24" fill="none" stroke="#fff" stroke-width="2.200" stroke-linecap="round" stroke-linejoin="round"><circle cx="9" cy="21" r="1"/><circle cx="20" cy="21" r="1"/><path d="M1 1h4l2.680 13.390a2 2 0 0 0 2 1.610h9.720a2 2 0 0 0 2-1.610L23 6H6"/></svg></div>
<div class="t b" style="left:68.4px;top:143.0px;font-size:13px;letter-spacing:.05px;color:#031b4e">Total Sales</div>
<div class="t" style="left:68.4px;top:163.0px;font-size:12px;color:#7987a1">1k New Sales</div>
<div class="t" style="right:19.9px;top:141.5px;font-size:11px;color:#7987a1">35 mins ago</div>
<div class="abs" style="left:22.9px;top:199.7px;width:37px;height:37px;border-radius:50%;background:linear-gradient(to right,#029666,#4bd7a7);box-shadow:0 0 0 2px #fff"><svg style="position:absolute;left:10px;top:10px" width="17" height="17" viewBox="0 0 24 24" fill="none" stroke="#fff" stroke-width="2.200" stroke-linecap="round" stroke-linejoin="round"><path d="M12 20V10M18 20V4M6 20v-4"/></svg></div>
<div class="t b" style="left:68.4px;top:203.7px;font-size:13px;letter-spacing:.05px;color:#031b4e">TotalRevenue</div>
<div class="t" style="left:68.4px;top:223.7px;font-size:12px;color:#7987a1">23.5K New Revenue</div>
<div class="t" style="right:19.9px;top:202.2px;font-size:11px;color:#7987a1">50 mins ago</div>
<div class="abs" style="left:22.9px;top:260.7px;width:37px;height:37px;border-radius:50%;background:linear-gradient(to right,#f76a2d,#efa65f);box-shadow:0 0 0 2px #fff"><svg style="position:absolute;left:10px;top:10px" width="17" height="17" viewBox="0 0 24 24" fill="none" stroke="#fff" stroke-width="2.200" stroke-linecap="round" stroke-linejoin="round"><path d="M21 16V8a2 2 0 0 0-1-1.730l-7-4a2 2 0 0 0-2 0l-7 4A2 2 0 0 0 3 8v8a2 2 0 0 0 1 1.730l7 4a2 2 0 0 0 2 0l7-4A2 2 0 0 0 21 16z"/><path d="M3.270 6.960L12 12.010l8.730-5.050M12 22.080V12"/></svg></div>
<div class="t b" style="left:68.4px;top:264.7px;font-size:13px;letter-spacing:.05px;color:#031b4e">TotalProfit</div>
<div class="t" style="left:68.4px;top:284.7px;font-size:12px;color:#7987a1">3k New profit</div>
<div class="t" style="right:19.9px;top:263.2px;font-size:11px;color:#7987a1">1 hour ago</div>
<div class="abs" style="left:22.9px;top:321.7px;width:37px;height:37px;border-radius:50%;background:linear-gradient(to right,#4a0fc9,#8a4bf0);box-shadow:0 0 0 2px #fff"><svg style="position:absolute;left:10px;top:10px" width="17" height="17" viewBox="0 0 24 24" fill="none" stroke="#fff" stroke-width="2.200" stroke-linecap="round" stroke-linejoin="round"><path d="M1 12s4-8 11-8 11 8 11 8-4 8-11 8-11-8-11-8z"/><circle cx="12" cy="12" r="3"/></svg></div>
<div class="t b" style="left:68.4px;top:325.7px;font-size:13px;letter-spacing:.05px;color:#031b4e">Customer Visits</div>
<div class="t" style="left:68.4px;top:345.7px;font-size:12px;color:#7987a1">15% increased</div>
<div class="t" style="right:19.9px;top:324.2px;font-size:11px;color:#7987a1">1 day ago</div>
<div class="abs" style="left:22.9px;top:382.1px;width:37px;height:37px;border-radius:50%;background:linear-gradient(to right,#0162e8,#6fa3f0);box-shadow:0 0 0 2px #fff"><svg style="position:absolute;left:10px;top:10px" width="17" height="17" viewBox="0 0 24 24" fill="none" stroke="#fff" stroke-width="2.200" stroke-linecap="round" stroke-linejoin="round"><path d="M11 4H4a2 2 0 0 0-2 2v14a2 2 0 0 0 2 2h14a2 2 0 0 0 2-2v-7"/><path d="M18.500 2.500a2.121 2.121 0 0 1 3 3L12 15l-4 1 1-4 9.500-9.500z"/></svg></div>
<div class="t b" style="left:68.4px;top:386.1px;font-size:13px;letter-spacing:.05px;color:#031b4e">Customer Reviews</div>
<div class="t" style="left:68.4px;top:406.1px;font-size:12px;color:#7987a1">1.5k reviews</div>
<div class="t" style="right:19.9px;top:384.6px;font-size:11px;color:#7987a1">1 day ago</div>
</div>
<!-- RECENT ORDERS -->
<div class="card" id="c-ro" style="left:1370px;top:722px;width:529px;height:307px">
<div class="ct" style="top:20.300px;font-size:13.500px;letter-spacing:-.5px">RECENT ORDERS</div>
<div class="cs" style="top:48px">An order is an investor's instructions to a broker or brokerage firm to purchase or sell</div>
<svg class="abs" style="left:0;top:0" width="529" height="307" viewBox="0 0 529 307"><defs><linearGradient id="gg" gradientUnits="userSpaceOnUse" x1="205.0" y1="0" x2="327.0" y2="0"><stop offset="0" stop-color="#0162e8"/><stop offset="1" stop-color="#17acdb"/></linearGradient></defs>
<path d="M319.80 152.72A53.8 53.8 0 0 1 304.04 191.14" fill="none" stroke="#f2f4f7" stroke-width="14.8"/>
<path d="M227.96 191.14A53.8 53.8 0 1 1 319.79 152.25" fill="none" stroke="url(#gg)" stroke-width="14.8" stroke-dasharray="4 4"/></svg>
<div class="t" style="left:206.0px;width:120px;text-align:center;top:139.3px;font-size:22px;color:#1c273c">83%</div>
<div class="abs" style="left:31.8px;top:224.9px;width:8px;height:8px;background:#0162e8"></div>
<div class="t" style="left:50.4px;top:221.9px;font-size:13.600px;color:#1c273c">Delivered</div>
<div class="t b" style="left:32.9px;top:242.0px;font-size:21px;color:#031b4e">5238</div>
<div class="t" style="left:32.9px;top:273.0px;font-size:14px;color:#7987a1">Last 6 months</div>
<div class="abs" style="left:276.8px;top:224.9px;width:8px;height:8px;background:#19b1f0"></div>
<div class="t" style="left:295.1px;top:221.9px;font-size:13.600px;color:#1c273c">Cancelled</div>
<div class="t b" style="left:277.3px;top:242.0px;font-size:21px;color:#031b4e">3467</div>
<div class="t" style="left:277.3px;top:273.0px;font-size:14px;color:#7987a1">Last 6 months</div>
</div>
<!-- TOTAL SALES -->
<div class="card" id="c-ts" style="left:1370px;top:1055px;width:529px;height:109px">
<div class="t" style="left:20.7px;top:23.2px;font-size:14px;color:#1c273c">Total Sales</div>
<div class="t b" style="left:20.7px;top:49.8px;font-size:24px;color:#031b4e">$7,590</div>
<div class="abs" style="left:20.7px;top:84.6px;width:232.1px;height:4px;border-radius:2px;background:#eff1f5"></div><div class="abs" style="left:20.7px;top:84.6px;width:182.7px;height:4px;border-radius:2px;background:linear-gradient(to right,#0162e8,#6fa3f0)"></div><div class="abs" style="left:195.9px;top:79.1px;width:15px;height:15px;border-radius:50%;background:#fff;border:4px solid #0162e8;box-shadow:0 3px 5px rgba(60,70,110,.35)"></div>
<div class="t" style="left:277.3px;top:23.2px;font-size:14px;color:#1c273c">Active Users</div>
<div class="t b" style="left:277.3px;top:49.8px;font-size:24px;color:#031b4e">$5,460</div>
<div class="abs" style="left:277.3px;top:84.6px;width:230.9px;height:4px;border-radius:2px;background:#eff1f5"></div><div class="abs" style="left:277.3px;top:84.6px;width:101.0px;height:4px;border-radius:2px;background:linear-gradient(to right,#f0345c,#f5728a)"></div><div class="abs" style="left:370.8px;top:79.1px;width:15px;height:15px;border-radius:50%;background:#fff;border:4px solid #ee335e;box-shadow:0 3px 5px rgba(60,70,110,.35)"></div>
</div>
<!-- TOP COUNTRIES -->
<div class="card" id="c-tc" style="left:261px;top:1191px;width:529px;height:340px">
<div class="ct" style="top:20px;font-size:12px;letter-spacing:.2px">YOUR TOP COUNTRIES</div>
<div class="cs" style="top:44px;font-size:11.900px">Sales performance revenue based by country</div>
<div class="abs" style="left:20.0px;top:66.7px;width:489.0px;height:253.3px;border:1px solid #e3e7f1;border-radius:5px"></div>
<div class="t" style="left:31.3px;top:81.2px;font-size:14px;color:#1c273c">United States</div>
<div class="t b" style="right:31.6px;top:81.7px;font-size:13.700px;color:#031b4e">$1,671.10</div>
<div class="abs" style="left:20.5px;top:108.8px;width:488px;height:1px;background:#e3e7f1"></div>
<div class="t" style="left:31.3px;top:123.3px;font-size:14px;color:#1c273c">Netherlands</div>
<div class="t b" style="right:31.6px;top:123.8px;font-size:13.700px;color:#031b4e">$1,064.75</div>
<div class="abs" style="left:20.5px;top:150.8px;width:488px;height:1px;background:#e3e7f1"></div>
<div class="t" style="left:31.3px;top:165.3px;font-size:14px;color:#1c273c">United Kingdom</div>
<div class="t b" style="right:31.6px;top:165.8px;font-size:13.700px;color:#031b4e">$1,055.98</div>
<div class="abs" style="left:20.5px;top:192.9px;width:488px;height:1px;background:#e3e7f1"></div>
<div class="t" style="left:31.3px;top:207.4px;font-size:14px;color:#1c273c">Canada</div>
<div class="t b" style="right:31.6px;top:207.9px;font-size:13.700px;color:#031b4e">$1,045.49</div>
<div class="abs" style="left:20.5px;top:234.9px;width:488px;height:1px;background:#e3e7f1"></div>
<div class="t" style="left:31.3px;top:249.4px;font-size:14px;color:#1c273c">India</div>
<div class="t b" style="right:31.6px;top:249.9px;font-size:13.700px;color:#031b4e">$1,930.12</div>
<div class="abs" style="left:20.5px;top:277.0px;width:488px;height:1px;background:#e3e7f1"></div>
<div class="t" style="left:31.3px;top:291.5px;font-size:14px;color:#1c273c">Australia</div>
<div class="t b" style="right:31.6px;top:292.0px;font-size:13.700px;color:#031b4e">$1,042.00</div>
</div>
<!-- EARNINGS -->
<div class="card" id="c-earn" style="left:816px;top:1191px;width:1083px;height:339px">
<div class="ct" style="top:20.300px;font-size:13.500px;letter-spacing:-.5px">YOUR MOST RECENT EARNINGS</div>
<div class="abs" style="left:1035px;top:20px;width:27px;height:27px;border-radius:50%;border:1px solid #e9edf6"></div>
<div class="abs" style="left:1044.500px;top:32.500px;width:2px;height:2px;border-radius:50%;background:#1c273c;box-shadow:3.500px 0 0 #1c273c,7px 0 0 #1c273c"></div>
<div class="cs" style="top:51px">This is your most recent earnings for today's date.</div>
<div class="abs" style="left:20.4px;top:119.1px;width:1041.8px;height:40.1px;background:#ecf0fa"></div>
<div class="abs" style="left:20.4px;top:199.2px;width:1041.8px;height:39.5px;background:#ecf0fa"></div>
<div class="abs" style="left:20.4px;top:278.2px;width:1041.8px;height:40.1px;background:#ecf0fa"></div>
<div class="abs" style="left:20.4px;top:82.0px;width:1041.8px;height:1px;background:#e3e7f1"></div>
<div class="abs" style="left:20.4px;top:118.6px;width:1041.8px;height:1px;background:#e3e7f1"></div>
<div class="abs" style="left:20.4px;top:158.7px;width:1041.8px;height:1px;background:#e3e7f1"></div>
<div class="abs" style="left:20.4px;top:198.7px;width:1041.8px;height:1px;background:#e3e7f1"></div>
<div class="abs" style="left:20.4px;top:238.2px;width:1041.8px;height:1px;background:#e3e7f1"></div>
<div class="abs" style="left:20.4px;top:277.7px;width:1041.8px;height:1px;background:#e3e7f1"></div>
<div class="abs" style="left:20.4px;top:317.8px;width:1041.8px;height:1px;background:#e3e7f1"></div>
<div class="abs" style="left:19.9px;top:82.0px;width:1px;height:236.8px;background:#e3e7f1"></div>
<div class="abs" style="left:284.1px;top:82.0px;width:1px;height:236.8px;background:#e3e7f1"></div>
<div class="abs" style="left:562.8px;top:82.0px;width:1px;height:236.8px;background:#e3e7f1"></div>
<div class="abs" style="left:788.7px;top:82.0px;width:1px;height:236.8px;background:#e3e7f1"></div>
<div class="abs" style="left:1061.7px;top:82.0px;width:1px;height:236.8px;background:#e3e7f1"></div>
<div class="t b" style="left:36.0px;top:95.3px;font-size:11.500px;letter-spacing:.35px;color:#1c273c">DATE</div>
<div class="t b" style="left:299.5px;top:95.3px;font-size:11.500px;letter-spacing:.35px;color:#1c273c">SALES COUNT</div>
<div class="t b" style="left:579.0px;top:95.3px;font-size:11.500px;letter-spacing:.35px;color:#1c273c">EARNINGS</div>
<div class="t b" style="left:805.3px;top:95.3px;font-size:11.500px;letter-spacing:.35px;color:#1c273c">TAX WITHELD</div>
<div class="t" style="left:36.0px;top:131.7px;font-size:13.600px;color:#1c273c">05 Dec 2019</div>
<div class="t med" style="left:299.5px;top:131.7px;font-size:14px;color:#1c273c">34</div>
<div class="t med" style="left:579.0px;top:131.7px;font-size:14px;color:#1c273c">$658.20</div>
<div class="t med" style="left:805.3px;top:131.7px;font-size:14px;color:#1c273c">-$45.10</div>
<div class="t" style="left:36.0px;top:171.7px;font-size:13.600px;color:#1c273c">06 Dec 2019</div>
<div class="t med" style="left:299.5px;top:171.7px;font-size:14px;color:#1c273c">26</div>
<div class="t med" style="left:579.0px;top:171.7px;font-size:14px;color:#1c273c">$453.25</div>
<div class="t" style="left:805.3px;top:171.7px;font-size:14px;color:#ee335e">-$15.02</div>
<div class="t" style="left:36.0px;top:211.5px;font-size:13.600px;color:#1c273c">07 Dec 2019</div>
<div class="t med" style="left:299.5px;top:211.5px;font-size:14px;color:#1c273c">34</div>
<div class="t med" style="left:579.0px;top:211.5px;font-size:14px;color:#1c273c">$653.12</div>
<div class="t med" style="left:805.3px;top:211.5px;font-size:14px;color:#1c273c">-$13.45</div>
<div class="t" style="left:36.0px;top:251.0px;font-size:13.600px;color:#1c273c">08 Dec 2019</div>
<div class="t med" style="left:299.5px;top:251.0px;font-size:14px;color:#1c273c">45</div>
<div class="t med" style="left:579.0px;top:251.0px;font-size:14px;color:#1c273c">$546.47</div>
<div class="t" style="left:805.3px;top:251.0px;font-size:14px;color:#ee335e">-$24.22</div>
<div class="t" style="left:36.0px;top:290.8px;font-size:13.600px;color:#1c273c">09 Dec 2019</div>
<div class="t med" style="left:299.5px;top:290.8px;font-size:14px;color:#1c273c">31</div>
<div class="t med" style="left:579.0px;top:290.8px;font-size:14px;color:#1c273c">$425.72</div>
<div class="t med" style="left:805.3px;top:290.8px;font-size:14px;color:#1c273c">-$25.01</div>
</div>
<!-- FOOTER -->
<div id="foot"><div class="abs" style="left:0;top:19px;width:1680px;text-align:center;font-size:13.700px;line-height:16px;color:#7987a1;white-space:nowrap">Copyright © 2023 <span class="b" style="color:#1c273c">Valex</span>. Designed with <svg width="14" height="13" viewBox="0 0 24 22" style="vertical-align:0px"><path d="M12 21.500C5.500 16 1 12.200 1 7.300 1 3.800 3.700 1 7.100 1c2 0 3.800 1 4.900 2.600C13.100 2 14.900 1 16.900 1 20.300 1 23 3.800 23 7.300c0 4.900-4.500 8.700-11 14.200z" fill="#ee335e"/></svg> by <span class="b" style="color:#0162e8;text-decoration:underline">Spruko</span> All rights reserved</div></div>
</body>
</html>
